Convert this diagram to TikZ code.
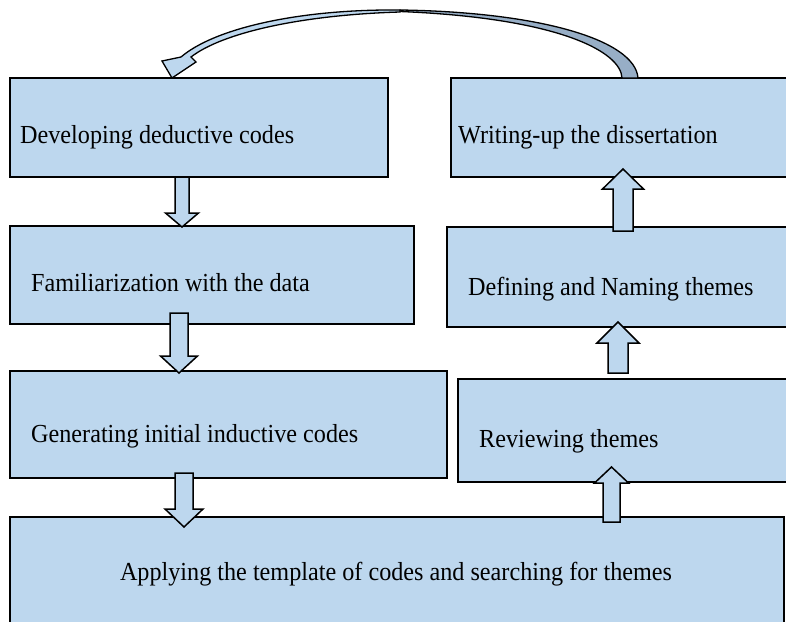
\documentclass[tikz,border=0pt]{standalone}
\usepackage{fontspec}
\setmainfont{Liberation Serif}[FakeStretch=0.93]
\definecolor{boxblue}{HTML}{BDD7EE}
\definecolor{darkblue}{HTML}{97AEC6}
\newcommand\BArrow[6]{% cx, ytail, ytip, shaft half, head half, head base y
  \filldraw[barrow] ({#1-#4},#2) -- ({#1-#4},#6) -- ({#1-#5},#6) -- (#1,#3)
    -- ({#1+#5},#6) -- ({#1+#4},#6) -- ({#1+#4},#2) -- cycle;}
\begin{document}
\begin{tikzpicture}[x=1pt,y=-1pt,
  box/.style={draw=black, line width=1.6pt, fill=boxblue, rectangle,
    inner sep=0pt, outer sep=0pt, anchor=north west},
  lbl/.style={anchor=base west, inner sep=0pt, text=black,
    font=\fontsize{26}{30}\selectfont},
  barrow/.style={draw=black, line width=1.5pt, fill=boxblue, line join=miter}]
\clip (0,0) rectangle (786,621);
\fill[white] (0,0) rectangle (786,621);
% boxes
\node[box, minimum width=378pt, minimum height=99pt]  (dev) at (10,78) {};
\node[box, minimum width=360pt, minimum height=99pt]  (wri) at (451,78) {};
\node[box, minimum width=404pt, minimum height=98pt]  (fam) at (10,226) {};
\node[box, minimum width=360pt, minimum height=100pt] (def) at (447,227) {};
\node[box, minimum width=437pt, minimum height=107pt] (gen) at (10,371) {};
\node[box, minimum width=350pt, minimum height=103pt] (rev) at (458,379) {};
\node[box, minimum width=774pt, minimum height=130pt] (app) at (10,517) {};
% labels
\node[lbl] (tdev) at (20,143)  {Developing deductive codes};
\node[lbl] (twri) at (458,143) {Writing-up the dissertation};
\node[lbl] (tfam) at (31,291)  {Familiarization with the data};
\node[lbl] (tdef) at (468,295) {Defining and Naming themes};
\node[lbl] (tgen) at (31,442)  {Generating initial inductive codes};
\node[lbl] (trev) at (479,447) {Reviewing themes};
\node[lbl, anchor=base] (tapp) at (396,580) {Applying the template of codes and searching for themes};
% block arrows
\BArrow{182}{177}{227}{7}{16.5}{213}
\BArrow{179}{313}{373}{9}{18.5}{356}
\BArrow{184}{473}{527}{9}{19}{509}
\BArrow{611.5}{522}{467}{8.5}{17}{483}
\BArrow{618}{373}{322}{10}{21}{343}
\BArrow{623}{231}{169}{10}{20.5}{189}
% curved arrow from Writing back to Developing
\filldraw[fill=darkblue, draw=black, line width=1.3pt, line join=round]
  (400,10) .. controls (540,12) and (635,40) .. (638,78) -- (622,78)
  .. controls (621,52) and (560,18) .. (400,11.5) -- cycle;
\filldraw[fill=boxblue, draw=black, line width=1.3pt, line join=miter]
  (400,10) .. controls (300,9) and (215,28) .. (181,57) -- (162,61) -- (172,78)
  -- (196,62) -- (191,57) .. controls (222,33) and (300,15) .. (400,12) -- cycle;
\end{tikzpicture}
\end{document}
